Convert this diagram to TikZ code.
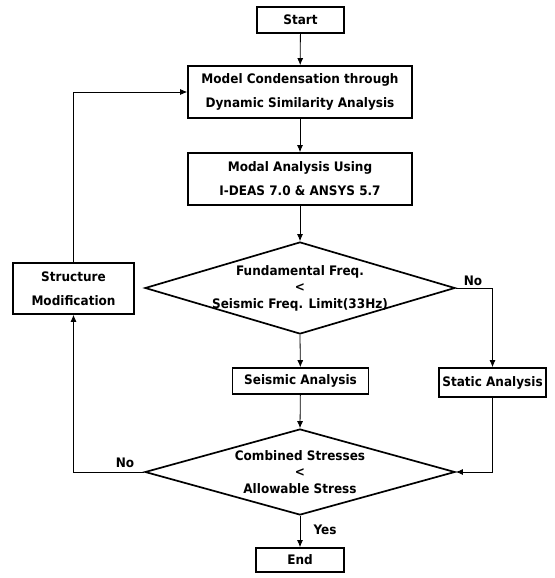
\documentclass[tikz,border=0pt]{standalone}
\usepackage{fontspec}
\setmainfont{DejaVu Sans}[FakeStretch=0.92]
\usetikzlibrary{shapes.geometric,arrows.meta}
\begin{document}
\begin{tikzpicture}[x=1pt,y=-1pt,
  every node/.style={font=\bfseries\fontsize{13.1}{24}\selectfont, align=center, inner sep=0pt},
  box/.style={draw, line width=1.7pt, minimum width=#1},
  dia/.style={draw, diamond, line width=1.7pt, minimum width=310pt},
  dtext/.style={font=\bfseries\fontsize{13.1}{16.5}\selectfont},
  conn/.style={line width=0.8pt, -{Latex[length=7pt,width=6pt]}},
  lbl/.style={font=\bfseries\fontsize{13.1}{14}\selectfont}
]
\useasboundingbox (0,0) rectangle (554,578);

\node[box=87pt, minimum height=26pt] (start) at (300.5,20) {Start};
\node[box=224pt, minimum height=52pt] (model) at (300,92) {Model Condensation through\\Dynamic Similarity Analysis};
\node[box=224pt, minimum height=52pt] (modal) at (300,179) {Modal Analysis Using\\I-DEAS 7.0 \& ANSYS 5.7};
\node[dia, minimum height=92pt] (d1) at (300,288) {};
\node[dtext] at (d1.center) {Fundamental Freq.\\<\\Seismic Freq. Limit(33Hz)};
\node[box=121pt, minimum height=51pt] (sm) at (73.5,288.5) {Structure\\Modification};
\node[box=136pt, minimum height=26pt] (seis) at (300.5,381) {Seismic Analysis};
\node[box=107pt, minimum height=29pt] (stat) at (492.5,382.5) {Static Analysis};
\node[dia, minimum height=86pt] (d2) at (300,472) {};
\node[dtext] at (d2.center) {Combined Stresses\\<\\Allowable Stress};
\node[box=88pt, minimum height=24pt] (end) at (300,560) {End};

\node[lbl] (no1) at (473,281) {No};
\node[lbl] (no2) at (125,463) {No};
\node[lbl] (yes) at (325,530) {Yes};

\draw[conn] (start) -- (model);
\draw[conn] (model) -- (modal);
\draw[conn] (modal) -- (d1.north);
\draw[conn] (d1.south) -- (seis);
\draw[conn] (d1.east) -| (stat.north);
\draw[conn] (seis) -- (d2.north);
\draw[conn] (stat.south) |- (d2.east);
\draw[conn] (d2.south) -- (end);
\draw[conn, line width=0.7pt] (d2.west) -| (sm.south);
\draw[conn, line width=0.7pt] (sm.north) |- (model.west);
\end{tikzpicture}
\end{document}
